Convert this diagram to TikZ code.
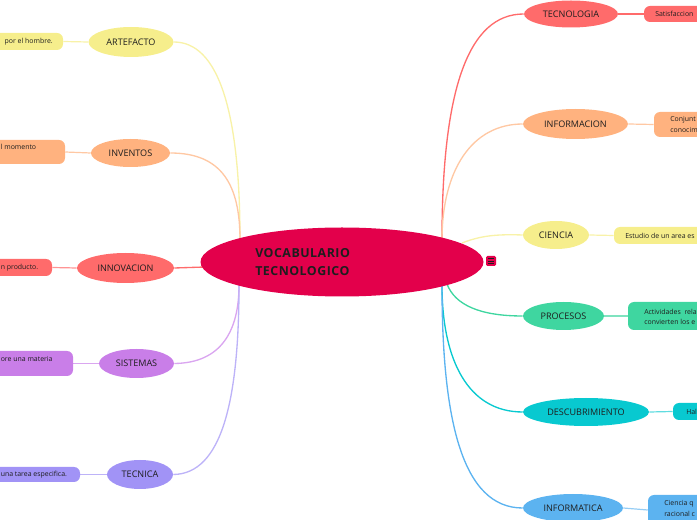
\documentclass[tikz,border=0pt]{standalone}
\usepackage{fontspec}
\setmainfont{Open Sans}
\usetikzlibrary{shapes.geometric,backgrounds}
\definecolor{cmain}{HTML}{E3004B}
\definecolor{ctext}{HTML}{1E1E1E}
\definecolor{cyel}{HTML}{F6EE8C}
\definecolor{cyell}{HTML}{F8F2A8}
\definecolor{cora}{HTML}{FFB27F}
\definecolor{coral}{HTML}{FFC8A3}
\definecolor{cred}{HTML}{FF6B6B}
\definecolor{credl}{HTML}{FF9494}
\definecolor{cpur}{HTML}{C97EE8}
\definecolor{cpurl}{HTML}{DAA6F0}
\definecolor{clav}{HTML}{A193F6}
\definecolor{clavl}{HTML}{BDB3F8}
\definecolor{cgrn}{HTML}{3FD6A0}
\definecolor{cgrnl}{HTML}{7FE3BF}
\definecolor{ccya}{HTML}{08C9D0}
\definecolor{ccyal}{HTML}{60DCE0}
\definecolor{cblu}{HTML}{5CB3F0}
\definecolor{cblul}{HTML}{95CDF5}
\tikzset{
  branch/.style={ellipse, inner sep=0pt, text=ctext, font=\fontsize{6.8}{8}\selectfont},
  leafbox/.style={rectangle, rounded corners=4.5pt, inner sep=0pt},
  leaftext/.style={inner sep=0pt, text=ctext, font=\fontsize{5.2}{7.6}\selectfont, align=left},
  conn/.style={line width=1pt},
  lconn/.style={line width=0.9pt},
}
\begin{document}
\begin{tikzpicture}[x=0.75pt,y=-0.75pt]
\useasboundingbox (0,0) rectangle (697,520);
\clip (0,0) rectangle (697,520);
% central
\node[ellipse, fill=cmain, minimum width=212.25pt, minimum height=51.75pt, inner sep=0pt] (c) at (342,262) {};
\node[anchor=west, inner sep=0pt, align=left, text=ctext, font=\fontsize{9.3}{13.5}\selectfont\bfseries\addfontfeature{LetterSpace=4}] (ct) at (255,262) {VOCABULARIO\\TECNOLOGICO};
\node[rectangle, rounded corners=1pt, fill=cmain, minimum width=7.5pt, minimum height=7.5pt, inner sep=0pt] (icon) at (491,261) {};
\draw[ctext, line width=0.6pt] ([xshift=-2.2pt,yshift=1.7pt]icon.center) -- ([xshift=2.2pt,yshift=1.7pt]icon.center)
  ([xshift=-2.2pt]icon.center) -- ([xshift=2.2pt]icon.center)
  ([xshift=-2.2pt,yshift=-1.7pt]icon.center) -- ([xshift=2.2pt,yshift=-1.7pt]icon.center);
\coordinate (clt) at (240,240);
\coordinate (cll) at (205,267);
\coordinate (clb) at (239,285);
\coordinate (crt) at (442,240);
\coordinate (crc) at (462,243);
\coordinate (crp) at (447,284);
\coordinate (crb) at (442,285);

% left branches
\node[branch, fill=cyel, minimum width=63.75pt, minimum height=22.5pt] (art) at (131,42) {ARTEFACTO};
\node[leafbox, fill=cyel, minimum width=62.25pt, minimum height=12.75pt] (artl) at (21.5,41.5) {};
\node[leaftext, anchor=east] (artt) at (53,42) {por el hombre.};

\node[branch, fill=cora, minimum width=59.25pt, minimum height=21pt] (inv) at (130.5,153) {INVENTOS};
\node[leafbox, fill=cora, minimum width=63.75pt, minimum height=18pt] (invl) at (22.5,152) {};
\node[leaftext, anchor=west] (invt) at (0.5,147) {l momento};

\node[branch, fill=cred, minimum width=72.75pt, minimum height=22.5pt] (inn) at (125.5,268) {INNOVACION};
\node[leafbox, fill=cred, minimum width=54pt, minimum height=12.75pt] (innl) at (16,267.5) {};
\node[leaftext, anchor=west] (innt) at (0.5,268) {n producto.};

\node[branch, fill=cpur, minimum width=56.25pt, minimum height=21.75pt] (sis) at (136.5,363.5) {SISTEMAS};
\node[leafbox, fill=cpur, minimum width=69.75pt, minimum height=18.75pt] (sisl) at (26.5,363.5) {};
\node[leaftext, anchor=west] (sist) at (0.5,359) {ore una materia};

\node[branch, fill=clav, minimum width=49.5pt, minimum height=21.75pt] (tec) at (140,474.5) {TECNICA};
\node[leafbox, fill=clav, minimum width=75pt, minimum height=11.25pt] (tecl) at (30,474.5) {};
\node[leaftext, anchor=west] (tect) at (0.5,474.5) {una tarea especifica.};

% right branches
\node[branch, fill=cred, minimum width=70.5pt, minimum height=20.25pt] (tgl) at (571,14) {TECNOLOGIA};
\node[leafbox, fill=cred, minimum width=57pt, minimum height=12pt] (tgll) at (682,14) {};
\node[leaftext, anchor=west] (tglt) at (655,14) {Satisfaccion};

\node[branch, fill=cora, minimum width=78.75pt, minimum height=22.5pt] (inf) at (575.5,124) {INFORMACION};
\node[leafbox, fill=cora, minimum width=49.5pt, minimum height=18.75pt] (infl) at (687,124.5) {};
\node[leaftext, anchor=west] (inft) at (670,124.5) {Conjunt\\conocim};

\node[branch, fill=cyel, minimum width=49.5pt, minimum height=21pt] (cie) at (556,235) {CIENCIA};
\node[leafbox, fill=cyel, minimum width=79.5pt, minimum height=12.75pt] (ciel) at (667,235.5) {};
\node[leaftext, anchor=west] (ciet) at (625,235.5) {Estudio de un area es};

\node[branch, fill=cgrn, minimum width=60.75pt, minimum height=21pt] (pro) at (563.5,316) {PROCESOS};
\node[leafbox, fill=cgrn, minimum width=69pt, minimum height=21pt] (prol) at (674,316) {};
\node[leaftext, anchor=west] (prot) at (644,316.5) {Actividades\ \ rela\\convierten los e};

\node[branch, fill=ccya, minimum width=94.5pt, minimum height=21pt] (des) at (586,412) {DESCUBRIMIENTO};
\node[leafbox, fill=ccya, minimum width=35.25pt, minimum height=12.75pt] (desl) at (696.5,411.5) {};
\node[leaftext, anchor=west] (dest) at (686,412) {Hal};

\node[branch, fill=cblu, minimum width=75pt, minimum height=21pt] (itc) at (573,508) {INFORMATICA};
\node[leafbox, fill=cblu, minimum width=54pt, minimum height=22.5pt] (itcl) at (684,510) {};
\node[leaftext, anchor=west] (itct) at (664,508.5) {Ciencia q\\racional c};

\begin{pgfonlayer}{background}
% left connectors
\draw[conn, cyell] (art.east) .. controls (218,42) and (240,110) .. (clt);
\draw[conn, coral] (inv.east) .. controls (222,153) and (240,185) .. (clt);
\draw[conn, cred] (inn.east) -- (cll);
\draw[conn, cpurl] (sis.east) .. controls (222,363) and (239,330) .. (clb);
\draw[conn, clavl] (tec.east) .. controls (222,474) and (239,400) .. (clb);
% right connectors
\draw[conn, cred] (tgl.west) .. controls (468,14) and (442,90) .. (crt);
\draw[conn, coral] (inf.west) .. controls (472,124) and (442,170) .. (crt);
\draw[conn, cyell] (cie.west) .. controls (495,234) and (480,236) .. (crc);
\draw[conn, cgrn] (pro.west) .. controls (480,316) and (455,305) .. (crp);
\draw[conn, ccya] (des.west) .. controls (468,412) and (442,360) .. (crb);
\draw[conn, cblu] (itc.west) .. controls (462,508) and (442,420) .. (crb);
% leaf connectors
\draw[lconn, cyell] (art.west) -- (artl.east);
\draw[lconn, coral] (inv.west) -- (invl.east);
\draw[lconn, credl] (inn.west) -- (innl.east);
\draw[lconn, cpurl] (sis.west) -- (sisl.east);
\draw[lconn, clavl] (tec.west) -- (tecl.east);
\draw[lconn, cred] (tgl.east) -- (tgll.west);
\draw[lconn, coral] (inf.east) -- (infl.west);
\draw[lconn, cyell] (cie.east) -- (ciel.west);
\draw[lconn, cgrnl] (pro.east) -- (prol.west);
\draw[lconn, ccyal] (des.east) -- (desl.west);
\draw[lconn, cblul] (itc.east) -- (itcl.west);
\end{pgfonlayer}
\end{tikzpicture}
\end{document}
